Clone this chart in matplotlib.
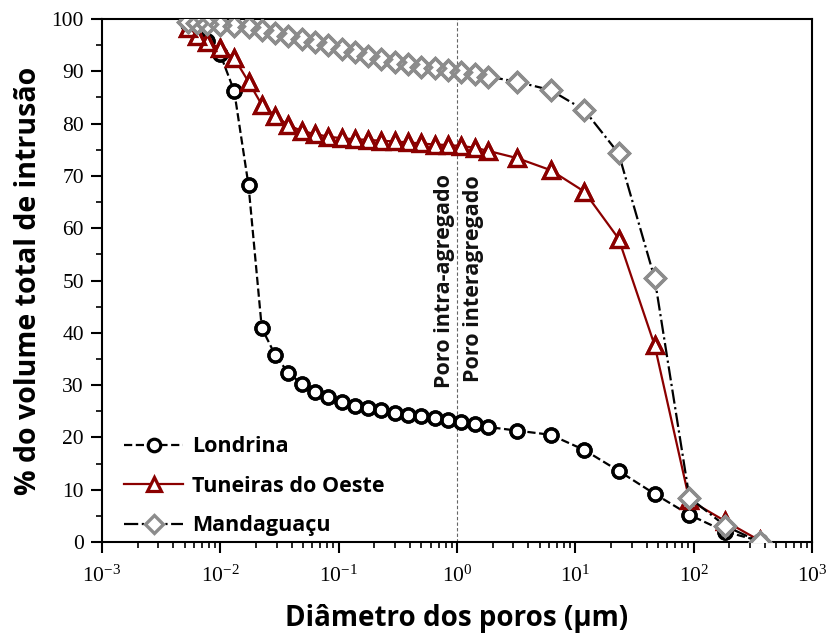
import matplotlib
matplotlib.use("Agg")
import matplotlib.pyplot as plt
from matplotlib.lines import Line2D
from matplotlib.ticker import FixedLocator, MultipleLocator, FuncFormatter, NullFormatter
import numpy as np

# ---- data ----
diam = [0.00533, 0.00635, 0.00773, 0.00993, 0.0131,
        0.0173, 0.0224, 0.0290, 0.0376, 0.0486, 0.0631, 0.0817, 0.106, 0.137, 0.177,
        0.230, 0.298, 0.386, 0.500, 0.647, 0.839, 1.09, 1.41, 1.82,
        3.22, 6.18, 11.9, 23.2, 46.8, 92.0, 184.5, 360.0]

londrina = [99.0, 97.8, 95.8, 93.4, 86.2,
            68.2, 40.9, 35.8, 32.3, 30.3, 28.7, 27.7, 26.8, 26.1, 25.6,
            25.2, 24.7, 24.3, 24.0, 23.7, 23.3, 22.9, 22.5, 22.0,
            21.3, 20.5, 17.6, 13.6, 9.2, 5.2, 2.0, 0.2]

tuneiras = [98.2, 96.8, 95.6, 94.4, 92.5,
            88.0, 83.6, 81.5, 79.7, 78.6, 78.0, 77.5, 77.2, 77.0, 76.9,
            76.7, 76.6, 76.4, 76.2, 76.0, 75.9, 75.7, 75.4, 74.8,
            73.4, 71.1, 67.0, 58.0, 37.6, 8.0, 4.0, 0.3]

mandaguacu = [99.4, 99.2, 99.0, 98.8, 98.7,
              98.4, 97.9, 97.3, 96.8, 96.2, 95.6, 95.0, 94.3, 93.6, 93.0,
              92.4, 91.8, 91.3, 90.9, 90.6, 90.2, 89.8, 89.4, 89.0,
              88.0, 86.4, 82.6, 74.3, 50.4, 8.5, 3.1, 0.0]

series_names = ["Londrina", "Tuneiras do Oeste", "Mandaguaçu"]
x_label = "Diâmetro dos poros (µm)"
y_label = "% do volume total de intrusão"
text_left = "Poro intra-agregado"
text_right = "Poro interagregado"
x_decades = [-3, -2, -1, 0, 1, 2, 3]

plt.rcParams["mathtext.fontset"] = "custom"
plt.rcParams["mathtext.rm"] = "Liberation Serif"

# ---- figure ----
fig = plt.figure(figsize=(8.28, 6.37), dpi=100)
ax = fig.add_axes([0.1232, 0.1491, 0.8575, 0.8211])

label_font = "Open Sans"

styles = [
    dict(ls="--", color="black", marker="o", mec="black", ms=9.5, mew=2.3),
    dict(ls="-", color="#8b0000", marker="^", mec="#8b0000", ms=11, mew=2.3),
    dict(ls="-.", color="black", marker="D", mec="#8c8c8c", ms=9.8, mew=2.4),
]
data = [londrina, tuneiras, mandaguacu]

handles = []
for vals, st, name in zip(data, styles, series_names):
    ax.plot(diam, vals, ls=st["ls"], color=st["color"], lw=1.6,
            marker=st["marker"], mfc="white", mec=st["mec"], ms=st["ms"], mew=st["mew"],
            zorder=3)
    ax.plot(diam, vals, ls="none", marker=st["marker"], mfc="none", mec=st["mec"],
            ms=st["ms"], mew=st["mew"], zorder=3)
    handles.append(Line2D([], [], ls=st["ls"], color=st["color"], lw=1.6,
                          marker=st["marker"], mfc="white", mec=st["mec"],
                          ms=st["ms"] * 0.95, mew=st["mew"]))

ax.set_xscale("log")
ax.set_xlim(1e-3, 1e3)
ax.set_ylim(0, 100)

ax.axvline(1.0, color="#666666", ls=(0, (3, 2)), lw=0.8, zorder=1)

ax.text(0.78, 29.5, text_left, rotation=90, ha="center", va="bottom",
        fontsize=15.5, fontweight="bold", family=label_font, color="#111111")
ax.text(1.38, 30.5, text_right, rotation=90, ha="center", va="bottom",
        fontsize=15.5, fontweight="bold", family=label_font, color="#111111")

# ticks
major = [10.0 ** d for d in x_decades]
minor = [m * 10.0 ** d for d in x_decades[:-1] for m in range(2, 10)]
ax.xaxis.set_major_locator(FixedLocator(major))
ax.xaxis.set_minor_locator(FixedLocator(minor))
ax.xaxis.set_minor_formatter(NullFormatter())
ax.xaxis.set_major_formatter(FuncFormatter(lambda v, p: r"$\mathdefault{10^{%d}}$" % int(round(np.log10(v)))))
ax.yaxis.set_major_locator(MultipleLocator(10))
ax.yaxis.set_minor_locator(MultipleLocator(5))

ax.tick_params(axis="both", which="major", direction="out", length=8, width=1.5,
               labelsize=15.5)
ax.tick_params(axis="x", which="major", pad=9)
ax.tick_params(axis="y", which="major", pad=5)
ax.tick_params(axis="both", which="minor", direction="out", length=4, width=1.2)
for lab in ax.get_xticklabels() + ax.get_yticklabels():
    lab.set_family("Liberation Serif")

for sp in ax.spines.values():
    sp.set_linewidth(1.5)

ax.set_xlabel(x_label, fontsize=20, fontweight="bold", family=label_font)
ax.set_ylabel(y_label, fontsize=20.5, fontweight="bold", family=label_font)
ax.xaxis.set_label_coords(0.5, -0.118)
ax.yaxis.set_label_coords(-0.083, 0.5)

leg = ax.legend(handles, series_names, loc="lower left", bbox_to_anchor=(0.010, -0.018),
                frameon=False, handlelength=2.75, handletextpad=0.4, labelspacing=0.86,
                borderpad=0.2, prop=dict(family=label_font, weight="bold", size=15.5))

fig.savefig("out.png", dpi=100)
